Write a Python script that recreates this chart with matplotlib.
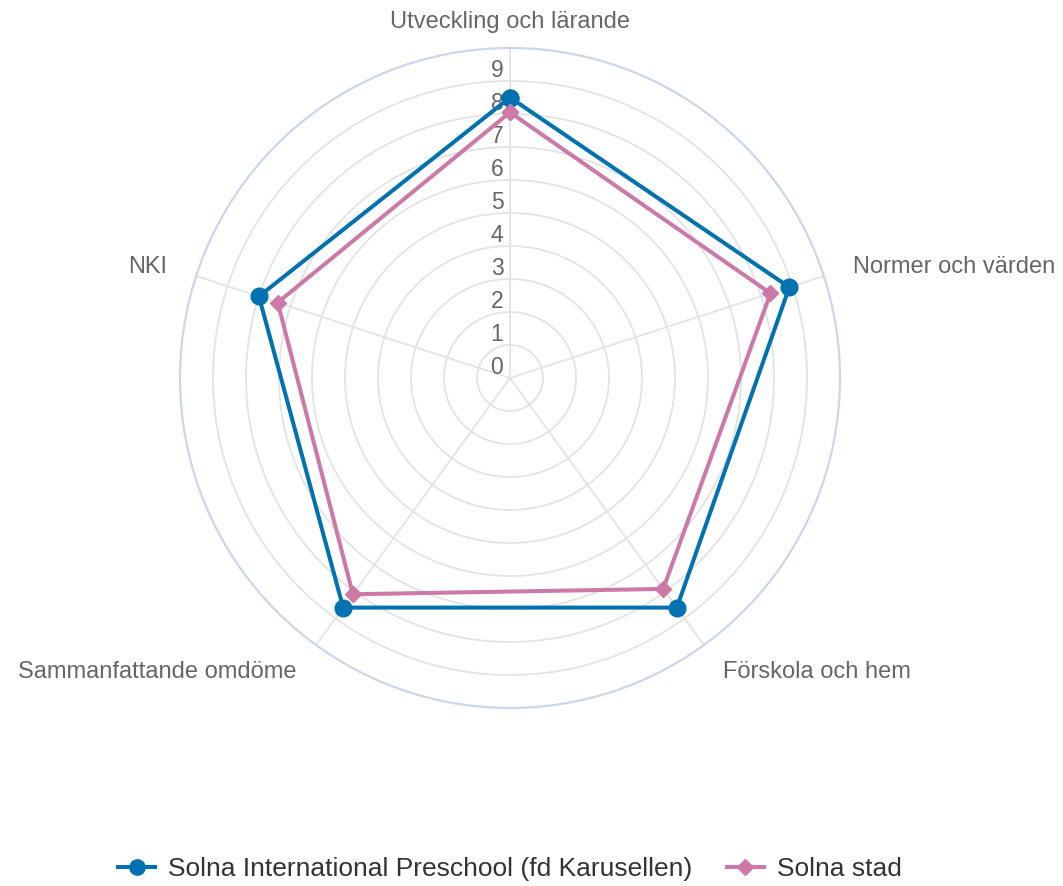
import numpy as np
import matplotlib
matplotlib.use("Agg")
import matplotlib.pyplot as plt
from matplotlib.lines import Line2D

plt.rcParams['font.family'] = ['Liberation Sans', 'DejaVu Sans']

categories = ["Utveckling och lärande", "Normer och värden", "Förskola och hem",
              "Sammanfattande omdöme", "NKI"]
series_names = ["Solna International Preschool (fd Karusellen)", "Solna stad"]
school_values = [8.5, 8.9, 8.6, 8.6, 8.0]
city_values = [8.05, 8.3, 7.9, 8.1, 7.4]
tick_values = [0, 1, 2, 3, 4, 5, 6, 7, 8, 9]
r_max = 10

BLUE = "#0072b2"
PINK = "#cc79a7"
GRID = "#e3e3e3"
OUTER = "#ccd6eb"
TEXT = "#666666"

fig = plt.figure(figsize=(10.63, 8.86), dpi=100)
ax = fig.add_axes([180/1063, 178/886, 660/1063, 660/886], projection='polar')
ax.set_theta_zero_location('N')
ax.set_theta_direction(-1)
ax.set_ylim(0, r_max)

n = len(categories)
angles = np.arange(n) * 2 * np.pi / n

# grid
ax.grid(False)
ax.set_xticks([])
ax.set_yticks([])
tt = np.linspace(0, 2*np.pi, 400)
for k in range(1, r_max):
    ax.plot(tt, np.full_like(tt, k), color=GRID, lw=1.3, zorder=1)
for a in angles:
    ax.plot([a, a], [0, r_max], color=GRID, lw=1.3, zorder=1)
ax.spines['polar'].set_color(OUTER)
ax.spines['polar'].set_linewidth(1.6)

# radial tick labels
for k in tick_values:
    ax.annotate(str(k), xy=(0, k), xytext=(-13, 11), textcoords='offset pixels',
                ha='center', va='center', fontsize=16.5, color=TEXT, zorder=2)

# category labels
label_specs = [(10.8, 'center', 'center'), (10.93, 'left', 'center'),
               (11.0, 'left', 'center'), (11.0, 'right', 'center'),
               (10.93, 'right', 'center')]
for a, lab, (r, ha, va) in zip(angles, categories, label_specs):
    ax.text(a, r, lab, ha=ha, va=va, fontsize=17, color=TEXT, clip_on=False)

# series
ang_c = np.concatenate([angles, angles[:1]])
sv = np.concatenate([school_values, school_values[:1]])
cv = np.concatenate([city_values, city_values[:1]])
ax.plot(ang_c, sv, color=BLUE, lw=2.9, marker='o', markersize=12,
        zorder=4, clip_on=False)
ax.plot(ang_c, cv, color=PINK, lw=2.9, marker='D', markersize=8.5,
        zorder=5, clip_on=False)

handles = [Line2D([], [], color=BLUE, lw=2.9, marker='o', markersize=11),
           Line2D([], [], color=PINK, lw=2.9, marker='D', markersize=8)]
fig.legend(handles, series_names, loc='center', bbox_to_anchor=(510/1063, 1 - 869/886),
           ncol=2, frameon=False, fontsize=19, handlelength=1.4,
           columnspacing=1.3, handletextpad=0.5, labelcolor='#333333')

fig.savefig("out.png", dpi=100)
